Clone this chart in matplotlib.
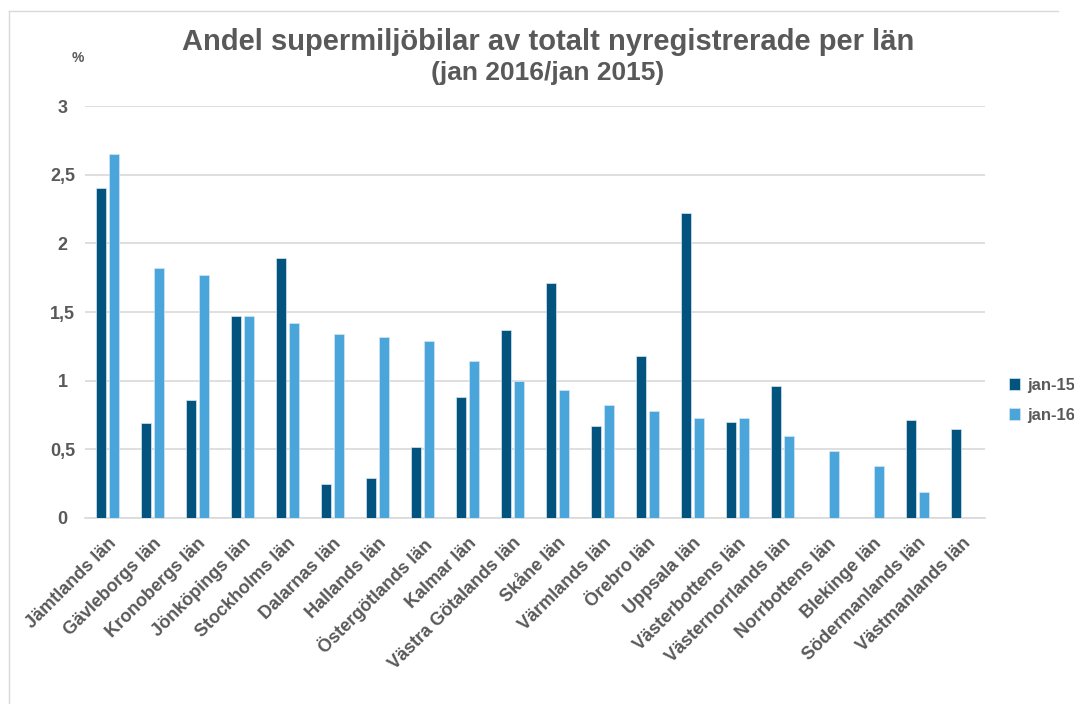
import matplotlib
matplotlib.use('Agg')
import matplotlib.pyplot as plt
import numpy as np
from matplotlib.lines import Line2D

plt.rcParams['font.family'] = ['Liberation Sans', 'DejaVu Sans']

# data (%)
counties = ['Jämtlands län', 'Gävleborgs län', 'Kronobergs län', 'Jönköpings län',
            'Stockholms län', 'Dalarnas län', 'Hallands län', 'Östergötlands län',
            'Kalmar län', 'Västra Götalands län', 'Skåne län', 'Värmlands län',
            'Örebro län', 'Uppsala län', 'Västerbottens län', 'Västernorrlands län',
            'Norrbottens län', 'Blekinge län', 'Södermanlands län', 'Västmanlands län']
jan15 = [2.40, 0.69, 0.86, 1.47, 1.89, 0.25, 0.29, 0.52, 0.88, 1.37,
         1.71, 0.67, 1.18, 2.22, 0.70, 0.96, np.nan, np.nan, 0.71, 0.65]
jan16 = [2.65, 1.82, 1.77, 1.47, 1.42, 1.34, 1.32, 1.29, 1.14, 1.00,
         0.93, 0.82, 0.78, 0.73, 0.73, 0.60, 0.49, 0.38, 0.19, np.nan]
series_names = ['jan-15', 'jan-16']
yticks = [0, 0.5, 1, 1.5, 2, 2.5, 3]
ytick_labels = ['0', '0,5', '1', '1,5', '2', '2,5', '3']

dark = '#02547F'
light = '#4AA5DB'
text_col = '#595959'
grid_col = '#D9D9D9'

fig = plt.figure(figsize=(10.74, 7.04), dpi=100)
ax = fig.add_axes([85 / 1074, 1 - 518 / 704, 900 / 1074, 412 / 704])

x = np.arange(len(counties))
w = 0.222
off = 0.14
ax.bar(x - off, jan15, w, color=dark, edgecolor='#D6E6F2', linewidth=0.5,
       label=series_names[0], zorder=3)
ax.bar(x + off, jan16, w, color=light, edgecolor='#D6E6F2', linewidth=0.5,
       label=series_names[1], zorder=3)

ax.set_xlim(-0.5, len(counties) - 0.5)
ax.set_ylim(0, 3)
ax.set_yticks(yticks)
ax.set_yticklabels(ytick_labels, fontsize=13, fontweight='bold', color=text_col)
ax.set_xticks(x)
ax.set_xticklabels(counties, rotation=45, ha='right', rotation_mode='anchor',
                   fontsize=13, fontweight='bold', color=text_col)
ax.tick_params(axis='both', length=0)
ax.tick_params(axis='y', pad=16)
ax.tick_params(axis='x', pad=12)
for lab in ax.get_yticklabels():
    lab.set_horizontalalignment('center')
ax.grid(axis='y', color=grid_col, linewidth=1.2, zorder=0)
for s in ['top', 'right', 'left']:
    ax.spines[s].set_visible(False)
ax.spines['bottom'].set_color(grid_col)
ax.spines['bottom'].set_linewidth(1.2)

fig.text(548 / 1074, 1 - 42 / 704, 'Andel supermiljöbilar av totalt nyregistrerade per län',
         ha='center', va='center', fontsize=21, fontweight='bold', color=text_col)
fig.text(548 / 1074, 1 - 73 / 704, '(jan 2016/jan 2015)',
         ha='center', va='center', fontsize=19, fontweight='bold', color=text_col)
fig.text(78 / 1074, 1 - 58 / 704, '%', ha='center', va='center',
         fontsize=10, fontweight='bold', color=text_col)

leg = fig.legend(loc='center left', bbox_to_anchor=(1002 / 1074, 1 - 400 / 704),
                 frameon=False, fontsize=12, handlelength=0.7, handleheight=0.7,
                 handletextpad=0.4, labelspacing=0.9, borderaxespad=0)
for t in leg.get_texts():
    t.set_fontweight('bold')
    t.set_color(text_col)

# light frame around the chart
fig.add_artist(Line2D([9 / 1074, 1058 / 1074], [1 - 11 / 704, 1 - 11 / 704],
                      transform=fig.transFigure, color=grid_col, linewidth=1))
fig.add_artist(Line2D([9 / 1074, 9 / 1074], [1 - 11 / 704, 0],
                      transform=fig.transFigure, color=grid_col, linewidth=1))

fig.savefig('out.png', dpi=100, facecolor='white')
